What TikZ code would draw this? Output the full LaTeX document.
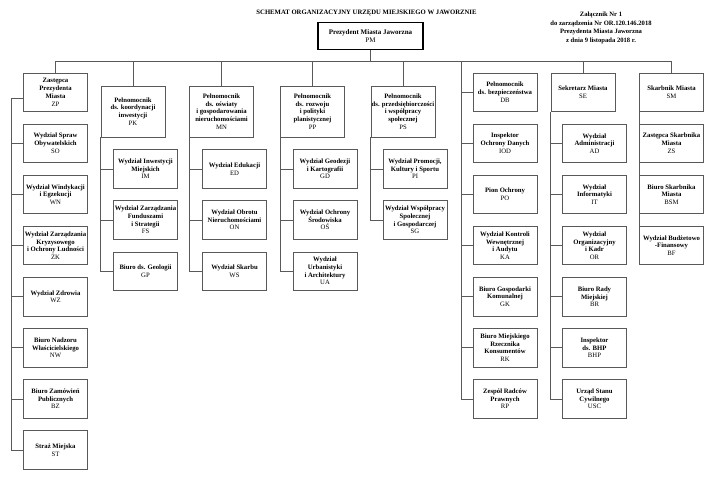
\documentclass[tikz,border=0pt]{standalone}
\usepackage{fontspec}
\setmainfont{Liberation Serif}
\usetikzlibrary{positioning}

\begin{document}
\begin{tikzpicture}[x=1pt, y=-1pt, node distance=12pt, font=\fontsize{6.7}{7.7}\selectfont\bfseries]
  \tikzstyle{unit}=[draw=black!65, line width=0.7pt, align=center, minimum width=64pt, minimum height=38.4pt, inner sep=0.8pt]
  \tikzstyle{head}=[unit, minimum height=51pt]
  \tikzstyle{link}=[draw=black!65, line width=0.7pt]
  \useasboundingbox (0,0) rectangle (715,500);

  \node (title) at (366.5,13) {SCHEMAT ORGANIZACYJNY URZĘDU MIEJSKIEGO W JAWORZNIE};
  \node[align=center, font=\fontsize{6.6}{8.8}\selectfont\bfseries] (zal) at (601,28) {Załącznik Nr 1\\do zarządzenia Nr OR.120.146.2018\\Prezydenta Miasta Jaworzna\\z dnia 9 listopada 2018 r.};
  \node[draw, line width=1.4pt, align=center, minimum width=105pt, minimum height=27pt, font=\fontsize{7}{8.4}\selectfont\bfseries] (PM) at (370.5,36) {Prezydent Miasta Jaworzna\\\mdseries PM};

  \node[unit] (ZP) at (55.5,92.3) {Zastępca\\Prezydenta\\Miasta\\\mdseries ZP};
  \node[unit, below=of ZP] (SO) {Wydział Spraw\\Obywatelskich\\\mdseries SO};
  \node[unit, below=of SO] (WN) {Wydział Windykacji\\i Egzekucji\\\mdseries WN};
  \node[unit, below=of WN] (ZK) {Wydział Zarządzania\\Kryzysowego\\i Ochrony Ludności\\\mdseries ŻK};
  \node[unit, below=of ZK] (WZ) {Wydział Zdrowia\\\mdseries WZ};
  \node[unit, below=of WZ] (NW) {Biuro Nadzoru\\Właścicielskiego\\\mdseries NW};
  \node[unit, below=of NW] (BZ) {Biuro Zamówień\\Publicznych\\\mdseries BZ};
  \node[unit, below=of BZ] (ST) {Straż Miejska\\\mdseries ST};

  \node[head] (PK) at (133,111.5) {Pełnomocnik\\ds. koordynacji\\inwestycji\\\mdseries PK};
  \node[unit, below=of PK, xshift=12.5pt] (IM) {Wydział Inwestycji\\Miejskich\\\mdseries IM};
  \node[unit, below=of IM] (FS) {Wydział Zarządzania\\Funduszami\\i Strategii\\\mdseries FS};
  \node[unit, below=of FS] (GP) {Biuro ds. Geologii\\\mdseries GP};

  \node[head] (MN) at (221.5,111.5) {Pełnomocnik\\ds. oświaty\\i gospodarowania\\nieruchomościami\\\mdseries MN};
  \node[unit, below=of MN, xshift=13pt] (ED) {Wydział Edukacji\\\mdseries ED};
  \node[unit, below=of ED] (ON) {Wydział Obrotu\\Nieruchomościami\\\mdseries ON};
  \node[unit, below=of ON] (WS) {Wydział Skarbu\\\mdseries WS};

  \node[head] (PP) at (312.5,111.5) {Pełnomocnik\\ds. rozwoju\\i polityki\\planistycznej\\\mdseries PP};
  \node[unit, below=of PP, xshift=12.5pt] (GD) {Wydział Geodezji\\i Kartografii\\\mdseries GD};
  \node[unit, below=of GD] (OS) {Wydział Ochrony\\Środowiska\\\mdseries OŚ};
  \node[unit, below=of OS] (UA) {Wydział\\Urbanistyki\\i Architektury\\\mdseries UA};

  \node[head] (PS) at (403,111.5) {Pełnomocnik\\ds. przedsiębiorczości\\i współpracy\\społecznej\\\mdseries PS};
  \node[unit, below=of PS, xshift=12pt] (PI) {Wydział Promocji,\\Kultury i Sportu\\\mdseries PI};
  \node[unit, below=of PI] (SG) {Wydział Współpracy\\Społecznej\\i Gospodarczej\\\mdseries SG};

  \node[unit] (DB) at (505,92.3) {Pełnomocnik\\ds. bezpieczeństwa\\\mdseries DB};
  \node[unit, below=of DB] (IOD) {Inspektor\\Ochrony Danych\\\mdseries IOD};
  \node[unit, below=of IOD] (PO) {Pion Ochrony\\\mdseries PO};
  \node[unit, below=of PO] (KA) {Wydział Kontroli\\Wewnętrznej\\i Audytu\\\mdseries KA};
  \node[unit, below=of KA] (GK) {Biuro Gospodarki\\Komunalnej\\\mdseries GK};
  \node[unit, below=of GK] (RK) {Biuro Miejskiego\\Rzecznika\\Konsumentów\\\mdseries RK};
  \node[unit, below=of RK] (RP) {Zespół Radców\\Prawnych\\\mdseries RP};

  \node[unit] (SE) at (583,92.3) {Sekretarz Miasta\\\mdseries SE};
  \node[unit, below=of SE, xshift=11.5pt] (AD) {Wydział\\Administracji\\\mdseries AD};
  \node[unit, below=of AD] (IT) {Wydział\\Informatyki\\\mdseries IT};
  \node[unit, below=of IT] (OR) {Wydział\\Organizacyjny\\i Kadr\\\mdseries OR};
  \node[unit, below=of OR] (BR) {Biuro Rady\\Miejskiej\\\mdseries BR};
  \node[unit, below=of BR] (BHP) {Inspektor\\ds. BHP\\\mdseries BHP};
  \node[unit, below=of BHP] (USC) {Urząd Stanu\\Cywilnego\\\mdseries USC};

  \node[unit] (SM) at (671.5,92.3) {Skarbnik Miasta\\\mdseries SM};
  \node[unit, below=of SM] (ZS) {Zastępca Skarbnika\\Miasta\\\mdseries ZS};
  \node[unit, below=of ZS] (BSM) {Biuro Skarbnika\\Miasta\\\mdseries BSM};
  \node[unit, below=of BSM] (BF) {Wydział Budżetowo\\-Finansowy\\\mdseries BF};

  \coordinate (bus) at (0,61);
  \coordinate (c6) at (461,61);
  \draw[link] (ZP.north) -- (ZP |- bus) -| (SM.north);
  \foreach \n in {PM,PK,MN,PP,PS,SE}
    \draw[link] (\n) -- (\n |- bus);

  \draw[link] ([yshift=-6pt]ZP.west) -- ++(-12,0) coordinate (c1) |- (ST.west);
  \foreach \n in {SO,WN,ZK,WZ,NW,BZ}
    \draw[link] (c1 |- \n.west) -- (\n.west);

  \draw[link] (PK.south west) |- (GP.west);
  \foreach \n in {IM,FS}
    \draw[link] (PK.south west |- \n.west) -- (\n.west);
  \draw[link] (MN.south west) |- (WS.west);
  \foreach \n in {ED,ON}
    \draw[link] (MN.south west |- \n.west) -- (\n.west);
  \draw[link] (PP.south west) |- (UA.west);
  \foreach \n in {GD,OS}
    \draw[link] (PP.south west |- \n.west) -- (\n.west);
  \draw[link] (PS.south west) |- (SG.west);
  \draw[link] (PS.south west |- PI.west) -- (PI.west);

  \draw[link] (c6) |- (RP.west);
  \foreach \n in {DB,IOD,PO,KA,GK,RK}
    \draw[link] (c6 |- \n.west) -- (\n.west);

  \draw[link] (SE.south west) |- (USC.west);
  \foreach \n in {AD,IT,OR,BR,BHP}
    \draw[link] (SE.south west |- \n.west) -- (\n.west);
  \draw[link] (SM.south west) -- (BF.north west);
\end{tikzpicture}
\end{document}
